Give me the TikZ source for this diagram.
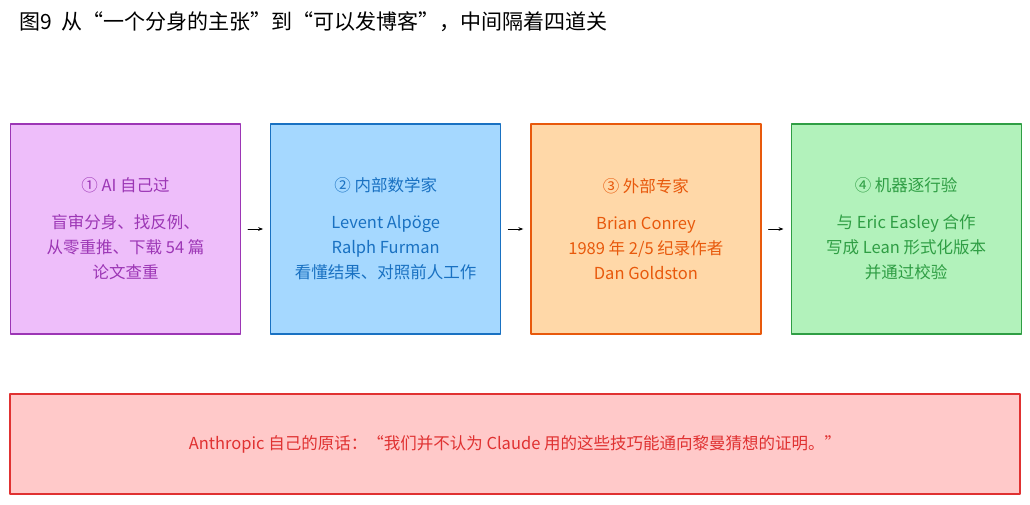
\documentclass[tikz,border=0pt]{standalone}
\usepackage{fontspec}
\setmainfont{Noto Sans CJK SC}
\usetikzlibrary{arrows.meta,positioning}
\definecolor{purpfill}{HTML}{EEBEFA}\definecolor{purpline}{HTML}{9C36B5}
\definecolor{bluefill}{HTML}{A5D8FF}\definecolor{blueline}{HTML}{1971C2}
\definecolor{orfill}{HTML}{FFD8A8}\definecolor{orline}{HTML}{E8590C}
\definecolor{grfill}{HTML}{B2F2BB}\definecolor{grline}{HTML}{2F9E44}
\definecolor{redfill}{HTML}{FFC9C9}\definecolor{redline}{HTML}{E03131}
\tikzset{
  step/.style={draw=#1line,fill=#1fill,text=#1line,line width=1.2pt,
    minimum width=230pt,minimum height=210pt,align=center,
    font=\fontsize{16.5}{25}\selectfont,inner sep=0pt},
  link/.style={-{Stealth[length=5pt]},line width=0.9pt,shorten <=7pt,shorten >=7pt}
}
\begin{document}
\begin{tikzpicture}[x=1pt,y=-1pt,line cap=round,line join=round]
\useasboundingbox (0,0) rectangle (1030,504);
\node[anchor=west,font=\fontsize{21}{24}\selectfont] (title) at (16,22)
  {图9\ \ 从“一个分身的主张”到“可以发博客”，中间隔着四道关};
\node[step=purp] (ai) at (125.5,229) {① AI 自己过\\[12pt]盲审分身、找反例、\\从零重推、下载 54 篇\\论文查重};
\node[step=blue,right=29pt of ai] (inner) {② 内部数学家\\[12pt]Levent Alpöge\\Ralph Furman\\看懂结果、对照前人工作};
\node[step=or,right=29pt of inner] (outer) {③ 外部专家\\[12pt]Brian Conrey\\1989 年 2/5 纪录作者\\Dan Goldston};
\node[step=gr,right=29pt of outer] (lean) {④ 机器逐行验\\[12pt]与 Eric Easley 合作\\写成 Lean 形式化版本\\并通过校验};
\node[draw=redline,fill=redfill,text=redline,line width=1.2pt,minimum width=1010pt,
  minimum height=100pt,font=\fontsize{16.5}{20}\selectfont] (quote) at (515,444)
  {Anthropic 自己的原话：“我们并不认为 Claude 用的这些技巧能通向黎曼猜想的证明。”};
\draw[link] (ai) -- (inner);
\draw[link] (inner) -- (outer);
\draw[link] (outer) -- (lean);
\end{tikzpicture}
\end{document}
